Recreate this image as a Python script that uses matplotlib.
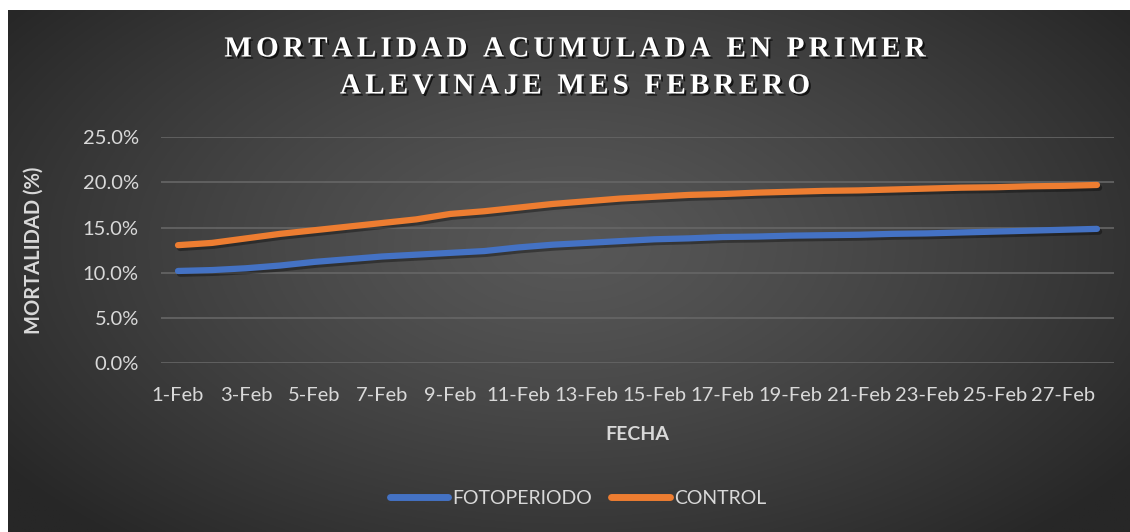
import numpy as np
import matplotlib
matplotlib.use("Agg")
import matplotlib.pyplot as plt
import matplotlib.patheffects as pe
from matplotlib.font_manager import FontProperties
from matplotlib.ticker import PercentFormatter

# datos (% mortalidad acumulada, 1 a 28 de febrero)
days = list(range(1, 29))
fotoperiodo = [10.2, 10.3, 10.5, 10.8, 11.2, 11.5, 11.8, 12.0, 12.2, 12.4,
               12.8, 13.1, 13.3, 13.5, 13.7, 13.8, 13.95, 14.0, 14.1, 14.15,
               14.2, 14.3, 14.35, 14.45, 14.55, 14.65, 14.75, 14.85]
control = [13.05, 13.3, 13.8, 14.3, 14.7, 15.1, 15.5, 15.9, 16.5, 16.8,
           17.2, 17.6, 17.9, 18.2, 18.4, 18.6, 18.7, 18.85, 18.95, 19.05,
           19.1, 19.2, 19.3, 19.4, 19.45, 19.55, 19.6, 19.7]
tick_days = list(range(1, 28, 2))
tick_labels = [f"{d}-Feb" for d in tick_days]
title_lines = ["MORTALIDAD ACUMULADA EN PRIMER", "ALEVINAJE MES FEBRERO"]

W, H = 1130, 532
TXT = "#d9d9d9"
BLUE = "#4472c4"
ORANGE = "#ed7d31"
FS = 14.5

plt.rcParams['font.family'] = ['Lato', 'DejaVu Sans']

fig = plt.figure(figsize=(W / 100, H / 100), dpi=100, facecolor="white")

# fondo con degradado radial
bg = fig.add_axes([8 / W, 0, 1 - 8 / W, 522 / H], zorder=-10)
yy, xx = np.mgrid[0:1:300j, 0:1:600j]
r = np.sqrt(((xx - 0.5) / 0.62) ** 2 + ((yy - 0.45) / 0.75) ** 2)
r = np.clip(r, 0, 1)
c0, c1 = 0x57 / 255, 0x27 / 255
img = c0 + (c1 - c0) * r ** 1.3
bg.imshow(np.dstack([img, img, img]), aspect="auto", extent=[0, 1, 0, 1])
bg.set_axis_off()

ax = fig.add_axes([161 / W, 1 - 363.3 / H, (1114 - 161) / W, (363.3 - 137) / H])
ax.set_facecolor("none")

shadow = [pe.SimpleLineShadow(offset=(1.5, -2), shadow_color="black", alpha=0.35), pe.Normal()]
ax.plot(days, fotoperiodo, color=BLUE, lw=4.5, solid_capstyle="round",
        label="FOTOPERIODO", path_effects=shadow)
ax.plot(days, control, color=ORANGE, lw=4.5, solid_capstyle="round",
        label="CONTROL", path_effects=shadow)

ax.set_xlim(0.5, 28.5)
ax.set_ylim(0, 25)
ax.set_yticks(np.arange(0, 26, 5))
ax.yaxis.set_major_formatter(PercentFormatter(decimals=1))
ax.set_xticks(tick_days)
ax.set_xticklabels(tick_labels)
ax.grid(axis="y", color="#666666", lw=1.2)
ax.set_axisbelow(True)
for s in ax.spines.values():
    s.set_visible(False)
ax.tick_params(axis="both", length=0, colors=TXT, labelsize=FS)
ax.tick_params(axis="y", pad=16)
ax.tick_params(axis="x", pad=17)

ax.set_xlabel("FECHA", color=TXT, fontsize=14, fontweight="bold", labelpad=16)
ax.set_ylabel("MORTALIDAD (%)", color=TXT, fontsize=14.5, fontweight="bold", labelpad=28)

leg = fig.legend(loc="center", bbox_to_anchor=(578 / W, 1 - 498 / H), ncol=2,
                 frameon=False, fontsize=14, handlelength=3.0, handletextpad=0.2,
                 columnspacing=1.0)
for t in leg.get_texts():
    t.set_color(TXT)
for h in leg.legend_handles:
    h.set_linewidth(5)
    h.set_path_effects([])

# titulo con espaciado entre letras
fp = FontProperties(family="Liberation Serif", weight="bold", size=21)
renderer = fig.canvas.get_renderer()
tracking = 4.2
title_fx = [pe.SimplePatchShadow(offset=(1.5, -1.5), shadow_rgbFace="black", alpha=0.7), pe.Normal()]
for line, yc in zip(title_lines, [49, 86]):
    widths = []
    for ch in line:
        if ch == " ":
            w = renderer.get_text_width_height_descent("a a", fp, ismath=False)[0] - \
                renderer.get_text_width_height_descent("aa", fp, ismath=False)[0]
        else:
            w = renderer.get_text_width_height_descent(ch, fp, ismath=False)[0]
        widths.append(w)
    total = sum(widths) + tracking * (len(line) - 1)
    x = 575 - total / 2
    for ch, w in zip(line, widths):
        if ch != " ":
            fig.text(x / W, 1 - yc / H, ch, fontproperties=fp, color="white",
                     ha="left", va="center", path_effects=title_fx)
        x += w + tracking

fig.savefig("out.png", dpi=100, facecolor="white")
